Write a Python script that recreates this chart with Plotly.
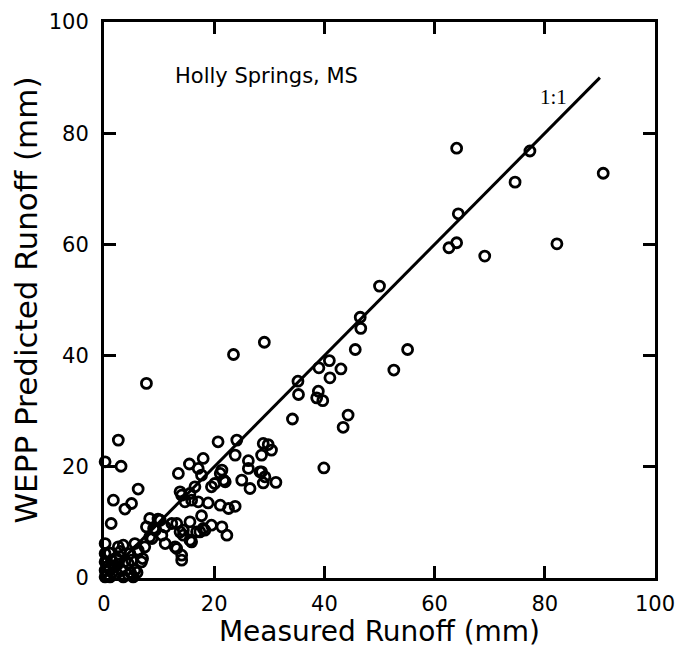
import plotly.graph_objects as go

# Measured (x) and WEPP predicted (y) runoff, mm
measured = [
    77.3, 74.6, 90.6, 82.2, 64.0, 64.3, 64.0, 62.6, 69.1,
    50.0, 46.5, 46.6, 45.6, 55.1, 52.6, 40.9, 39.0, 43.0, 41.0,
    35.2, 35.3, 38.9, 38.6, 39.7, 34.2, 44.3, 43.4, 39.9,
    29.1, 23.5, 7.7, 2.6, 20.7, 24.1, 0.2, 3.1,
    28.9, 29.8, 30.4, 28.6, 28.6, 29.2, 28.9, 31.2,
    18.0, 15.5, 26.2, 23.8, 26.2, 28.3, 25.0, 26.5,
    13.5, 17.1, 17.7, 21.1, 21.7, 19.5, 16.5, 21.4, 22.0, 20.1,
    14.1, 14.7, 17.1, 18.9, 21.1, 22.6, 23.8, 15.6, 13.8, 15.9,
    6.2, 1.7, 5.0, 3.8, 1.3,
    17.7, 13.2, 15.6, 14.4, 15.6, 16.8, 18.3, 19.5, 21.4, 22.3,
    13.8, 15.9, 17.4, 18.0, 14.4, 13.2, 14.1, 14.1, 12.9,
    8.3, 10.2, 7.7, 9.3, 10.5, 11.1, 8.7, 7.4, 6.2, 5.6, 3.5, 12.3,
    0.2, 0.2, 0.2, 2.6, 6.2, 4.7, 2.9, 1.4, 0.2, 4.4, 2.0, 0.2,
    3.2, 5.6, 1.1, 3.5, 5.3, 2.3, 6.8, 11.1, 8.3, 9.0, 4.4, 1.0,
    0.5, 1.5, 2.5, 3.8, 4.8, 1.0, 3.0, 5.0, 6.0, 0.8, 2.2, 7.0, 9.8,
]
predicted = [
    76.8, 71.2, 72.8, 60.1, 77.3, 65.5, 60.3, 59.4, 57.9,
    52.5, 46.9, 44.9, 41.1, 41.1, 37.4, 39.1, 37.8, 37.6, 36.0,
    35.4, 33.0, 33.6, 32.4, 31.9, 28.6, 29.3, 27.1, 19.8,
    42.4, 40.2, 35.0, 24.8, 24.5, 24.8, 20.9, 20.1,
    24.2, 24.0, 23.0, 22.1, 19.1, 18.2, 17.1, 17.2,
    21.5, 20.5, 21.1, 22.1, 19.7, 19.1, 17.6, 16.1,
    18.8, 19.7, 18.5, 18.8, 17.6, 16.4, 16.4, 19.4, 17.3, 17.0,
    14.9, 13.7, 13.7, 13.5, 13.1, 12.5, 12.9, 15.2, 15.5, 14.0,
    16.0, 14.0, 13.4, 12.4, 9.8,
    11.2, 9.8, 10.1, 8.6, 6.8, 8.3, 8.6, 9.5, 9.2, 7.7,
    8.3, 6.5, 8.3, 8.9, 7.7, 5.3, 3.2, 4.1, 5.6,
    10.7, 10.4, 9.2, 8.6, 7.7, 6.2, 7.1, 5.6, 4.7, 6.2, 5.9, 9.8,
    6.2, 4.4, 2.9, 5.6, 5.0, 4.4, 3.8, 3.2, 1.4, 2.6, 2.0, 0.2,
    1.4, 1.4, 0.2, 0.2, 0.2, 0.8, 2.9, 9.2, 7.4, 8.9, 0.6, 1.8,
    0.5, 1.0, 2.5, 3.0, 1.0, 4.5, 4.8, 3.2, 1.0, 2.2, 3.6, 3.5, 10.6,
]

line_x = [0, 90]
line_y = [0, 90]

x_ticks = [0, 20, 40, 60, 80, 100]
y_ticks = [0, 20, 40, 60, 80, 100]

font_family = "DejaVu Sans"

fig = go.Figure()
fig.add_trace(go.Scatter(
    x=line_x, y=line_y, mode="lines",
    line=dict(color="black", width=3),
    showlegend=False, hoverinfo="skip", cliponaxis=False,
))
fig.add_trace(go.Scatter(
    x=measured, y=predicted, mode="markers",
    marker=dict(symbol="circle-open", size=10, color="black",
                line=dict(color="black", width=2.8)),
    showlegend=False, cliponaxis=False,
))

fig.add_annotation(x=12.5, y=90.3, xref="x", yref="y", text="Holly Springs, MS",
                   showarrow=False, xanchor="left", yanchor="middle",
                   font=dict(family=font_family, size=21, color="black"))
fig.add_annotation(x=81.5, y=86.5, xref="x", yref="y", text="1:1",
                   showarrow=False, xanchor="center", yanchor="middle",
                   font=dict(family="Liberation Serif", size=21, color="black"))

axis_common = dict(
    range=[0, 100], showgrid=False, zeroline=False, automargin=False,
    showline=True, linecolor="black", linewidth=3, mirror="ticks",
    ticks="inside", ticklen=12, tickwidth=2.5, tickcolor="black",
    tickfont=dict(family=font_family, size=21, color="black"),
)

fig.update_xaxes(tickvals=x_ticks, ticktext=[str(v) for v in x_ticks],
                 title=dict(text="Measured Runoff (mm)", standoff=0,
                            font=dict(family=font_family, size=28, color="black")),
                 ticklabelstandoff=5, **axis_common)
fig.update_yaxes(tickvals=y_ticks, ticktext=[str(v) for v in y_ticks],
                 title=dict(text="WEPP Predicted Runoff (mm)", standoff=4,
                            font=dict(family=font_family, size=31, color="black")),
                 ticklabelstandoff=8, **axis_common)

fig.update_layout(
    width=675, height=640,
    margin=dict(l=96, r=28, t=14, b=70, autoexpand=False),
    plot_bgcolor="white", paper_bgcolor="white",
)

fig.write_html("out.html")
